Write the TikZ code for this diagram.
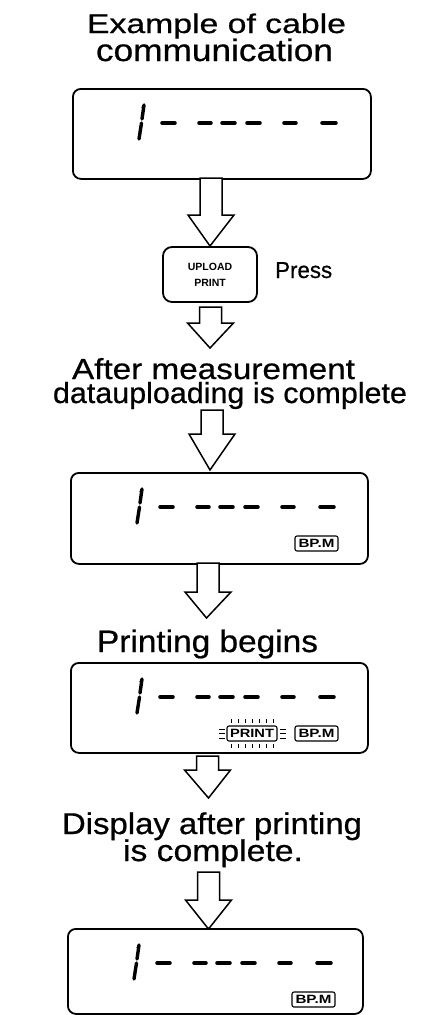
\documentclass[tikz,border=0pt]{standalone}
\usepackage{fontspec}
\setmainfont{Liberation Sans}[FakeBold=0.6]
\newfontfamily\lblfont{Liberation Sans Bold}
\usetikzlibrary{calc}
\newcommand\wtext[3]{{\fontsize{#1}{#1}\selectfont\resizebox{#2}{\height}{#3}}}
\newcommand\blockarrow[3][28]{%
  \draw[blk] let \p1=(#2), \p2=(#3) in
    (\x1-11pt,\y1) -- (\x1-11pt,\y2+#1pt) -- (\x1-23pt,\y2+#1pt) -- (\x2,\y2)
    -- (\x1+23pt,\y2+#1pt) -- (\x1+11pt,\y2+#1pt) -- (\x1+11pt,\y1) -- cycle;}
\newcommand\lcdsegs[1]{%
  \begin{scope}[shift={(#1.north west)}]
    \draw[seg] (72,17) -- (70,31);
    \draw[seg] (69.5,35) -- (67,51);
    \draw[line width=1.6pt] (70,20) -- (72.5,16);
    \foreach \a/\b in {88/105,125/141,148/165,173/190,210/226,248/266}
      \draw[dash7] (\a+2.5,35) -- (\b-2.5,35);
  \end{scope}}
\newcommand\bpm[1]{%
  \node[lbl, minimum width=43pt] (#1bpm) at ($(#1.north west)+(246.5pt,-71.5pt)$) {\wtext{12}{36pt}{BP.M}};}
\tikzset{
  lcd/.style={draw, line width=1.8pt, rounded corners=8pt, inner sep=0pt, anchor=north west},
  seg/.style={line width=3.4pt, line cap=round},
  dash7/.style={line width=4.6pt, line cap=round},
  blk/.style={draw, line width=1.5pt, fill=white, line join=miter},
  txt/.style={inner sep=0pt, anchor=base},
  lbl/.style={draw, line width=1.1pt, rounded corners=2pt, inner sep=0pt, minimum height=15pt, font=\lblfont},
  tick/.style={line width=0.8pt}
}
\begin{document}
\begin{tikzpicture}[x=1pt,y=-1pt]
\useasboundingbox (0,0) rectangle (427,1015);
% titles
\node[txt] (t1) at (216.5,33) {\wtext{27}{259pt}{Example of cable}};
\node[txt] (t2) at (214.5,61) {\wtext{31}{237pt}{communication}};
% display 1
\node[lcd, minimum width=298pt, minimum height=90pt] (d1) at (72,88) {};
\lcdsegs{d1}
% button
\node[draw, line width=1.8pt, rounded corners=9pt, minimum width=94pt, minimum height=55pt,
      align=center, font=\lblfont\fontsize{10.5}{16}\selectfont] (btn) at (210,274.5) {UPLOAD\\PRINT};
\node[txt, anchor=base west] (press) at (275,278) {\wtext{23}{57pt}{Press}};
\coordinate (a1s) at (211,178);
\coordinate (a1e) at (210,246);
\blockarrow[31]{a1s}{a1e}
\coordinate (a2s) at (210.5,307);
\coordinate (a2e) at (210,348);
\blockarrow[25]{a2s}{a2e}
% after measurement
\node[txt] (t3) at (213.5,379) {\wtext{29}{283pt}{After measurement}};
\node[txt] (t4) at (230,403) {\wtext{29}{354pt}{datauploading is complete}};
\coordinate (a3s) at (212,410);
\coordinate (a3e) at (210,470);
\blockarrow[36]{a3s}{a3e}
% display 2
\node[lcd, minimum width=297pt, minimum height=91pt] (d2) at (70,472) {};
\lcdsegs{d2}
\bpm{d2}
\coordinate (a4s) at (208,563);
\coordinate (a4e) at (206.5,618);
\blockarrow[26]{a4s}{a4e}
\node[txt] (t5) at (207.5,652) {\wtext{31}{221pt}{Printing begins}};
% display 3
\node[lcd, minimum width=297pt, minimum height=90pt] (d3) at (70,662) {};
\lcdsegs{d3}
\bpm{d3}
\node[lbl, minimum width=50pt] (d3prt) at ($(d3.north west)+(182pt,-71.5pt)$) {\wtext{12}{44pt}{PRINT}};
\begin{scope}[shift={(d3.north west)}]
  \foreach \x in {161,168,175,182,189,196,203}{
    \draw[tick] (\x,57) -- (\x,61);
    \draw[tick] (\x,82) -- (\x,86);}
  \foreach \y in {67,71.5,76}{
    \draw[tick] (149,\y) -- (155,\y);
    \draw[tick] (210,\y) -- (216,\y);}
\end{scope}
\coordinate (a5s) at (207.5,756);
\coordinate (a5e) at (208.5,798);
\blockarrow[28]{a5s}{a5e}
\node[txt] (t6) at (212,834) {\wtext{30}{300pt}{Display after printing}};
\node[txt] (t7) at (213,861) {\wtext{30}{180pt}{is complete.}};
\coordinate (a6s) at (208.5,872);
\coordinate (a6e) at (208.5,929);
\blockarrow[29]{a6s}{a6e}
% display 4
\node[lcd, minimum width=295pt, minimum height=85pt] (d4) at (67,928) {};
\lcdsegs{d4}
\bpm{d4}
\end{tikzpicture}
\end{document}
